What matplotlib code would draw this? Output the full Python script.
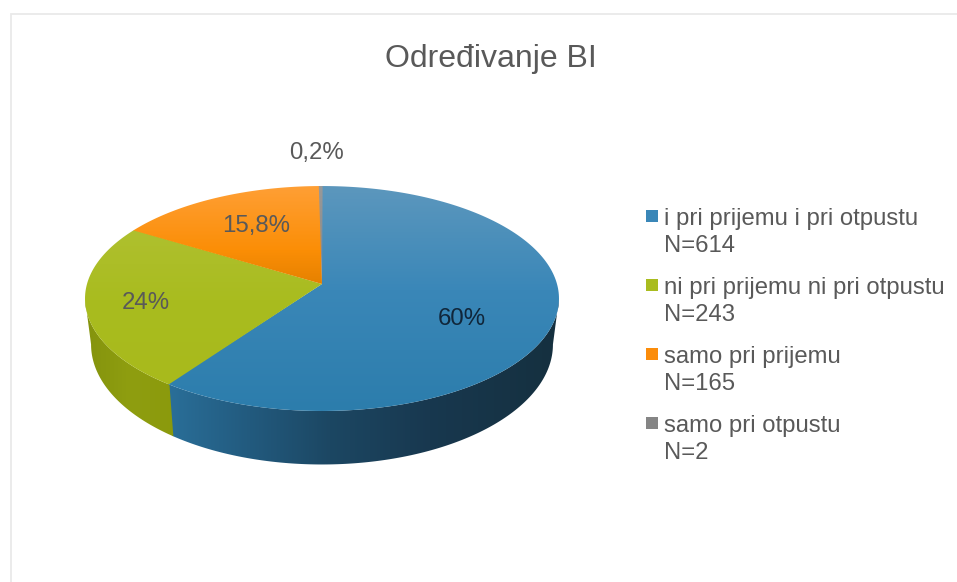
import numpy as np
import matplotlib
matplotlib.use('Agg')
import matplotlib.pyplot as plt
from matplotlib.colors import LinearSegmentedColormap
from matplotlib.patches import Polygon, Rectangle

plt.rcParams['font.family'] = ['Liberation Sans', 'DejaVu Sans']

title = 'Određivanje BI'
categories = ['i pri prijemu i pri otpustu', 'ni pri prijemu ni pri otpustu', 'samo pri prijemu', 'samo pri otpustu']
counts = [614, 243, 165, 2]
pct_labels = ['60%', '24%', '15,8%', '0,2%']
swatches = ['#3a87b8', '#a9bc1f', '#fb8c0a', '#858585']

# top face colours, image y -> colour
top_grads = [
    [(186, '#5c97bd'), (290, '#3a87b8'), (411, '#2c7dac')],
    [(228, '#afc02f'), (300, '#a9bc1f'), (384, '#a8ba1c')],
    [(186, '#ff9f35'), (250, '#fb8e06'), (284, '#e68100')],
    [(186, '#999999'), (284, '#858585')],
]
# side colours, image x -> colour
side_grads = [
    [(167, '#2a6f99'), (250, '#225a7e'), (330, '#1c4763'), (430, '#18384f'), (559, '#15303f')],
    [(85, '#84930d'), (130, '#8f9e10'), (180, '#8a990c')],
    [(85, '#b36a00'), (320, '#b36a00')],
    [(85, '#666666'), (320, '#666666')],
]

CX, TOP_Y, BOT_Y = 322, 284, 329
PERSP = 0.129
WIDEST = np.arcsin(PERSP)  # rim angle where the tilted ellipse is widest


def rim(theta, m, k, y0):
    u, v = np.cos(theta), np.sin(theta)
    d = 1 + PERSP * v
    return CX + m * u / d, y0 - k * v / d


def gradient(ax, stops, clip, vertical=True):
    lo, hi = stops[0][0], stops[-1][0]
    cmap = LinearSegmentedColormap.from_list('g', [((p - lo) / (hi - lo), c) for p, c in stops])
    g = np.linspace(0, 1, 256)
    if vertical:
        im = ax.imshow(g[:, None], extent=(0, 957, hi, lo), cmap=cmap, aspect='auto', vmin=0, vmax=1, zorder=2)
    else:
        im = ax.imshow(g[None, :], extent=(lo, hi, 582, 0), cmap=cmap, aspect='auto', vmin=0, vmax=1, zorder=2)
    patch = Polygon(clip, closed=True, transform=ax.transData, fc='none', ec='none')
    ax.add_patch(patch)
    im.set_clip_path(patch)


fig = plt.figure(figsize=(9.57, 5.82), dpi=100)
ax = fig.add_axes([0, 0, 1, 1])
ax.axis('off')

ax.add_patch(Rectangle((11, 13.5), 960, 600, fc='white', ec='#e9e9e9', lw=1.3, zorder=0))

fracs = np.array(counts) / sum(counts)
ends = np.pi / 2 - 2 * np.pi * np.cumsum(fracs)
starts = np.r_[np.pi / 2, ends[:-1]]

# sides first, front half of the pie only
for a, b, grad in zip(starts, ends, side_grads):
    lo, hi = max(b, -np.pi + WIDEST), min(a + 0.006, -WIDEST)
    if hi <= lo:
        continue
    th = np.linspace(lo, hi, 200)
    x1, y1 = rim(th, 235, 110.6, TOP_Y)
    x2, y2 = rim(th, 229, 118, BOT_Y)
    clip = np.r_[np.c_[x1, y1], np.c_[x2, y2][::-1]]
    gradient(ax, grad, clip, vertical=False)

# top faces
for a, b, grad in zip(starts, ends, top_grads):
    th = np.linspace(a + 0.003, b - 0.003, 200)
    x1, y1 = rim(th, 235, 110.6, TOP_Y)
    clip = np.r_[[[CX, TOP_Y]], np.c_[x1, y1]]
    gradient(ax, grad, clip)

ax.text(491, 59, title, color='#595959', fontsize=23, ha='center', va='center')

label_xy = [(462, 319), (146, 303), (256, 226), (317, 153)]
label_col = ['#10263a', '#595959', '#595959', '#595959']
for s, (x, y), c in zip(pct_labels, label_xy, label_col):
    ax.text(x, y, s, color=c, fontsize=17.3, ha='center', va='center', zorder=5)

# legend
for i, (name, n, col) in enumerate(zip(categories, counts, swatches)):
    y = 216 + i * 69
    ax.add_patch(Rectangle((646, y - 6), 12, 12, fc=col, ec='none'))
    ax.text(664, y + 3, name, color='#595959', fontsize=17.2, va='center')
    ax.text(664, y + 30, 'N=%d' % n, color='#595959', fontsize=17.2, va='center')

ax.set_xlim(0, 957)
ax.set_ylim(582, 0)
fig.savefig('out.png', dpi=100, facecolor='white')
